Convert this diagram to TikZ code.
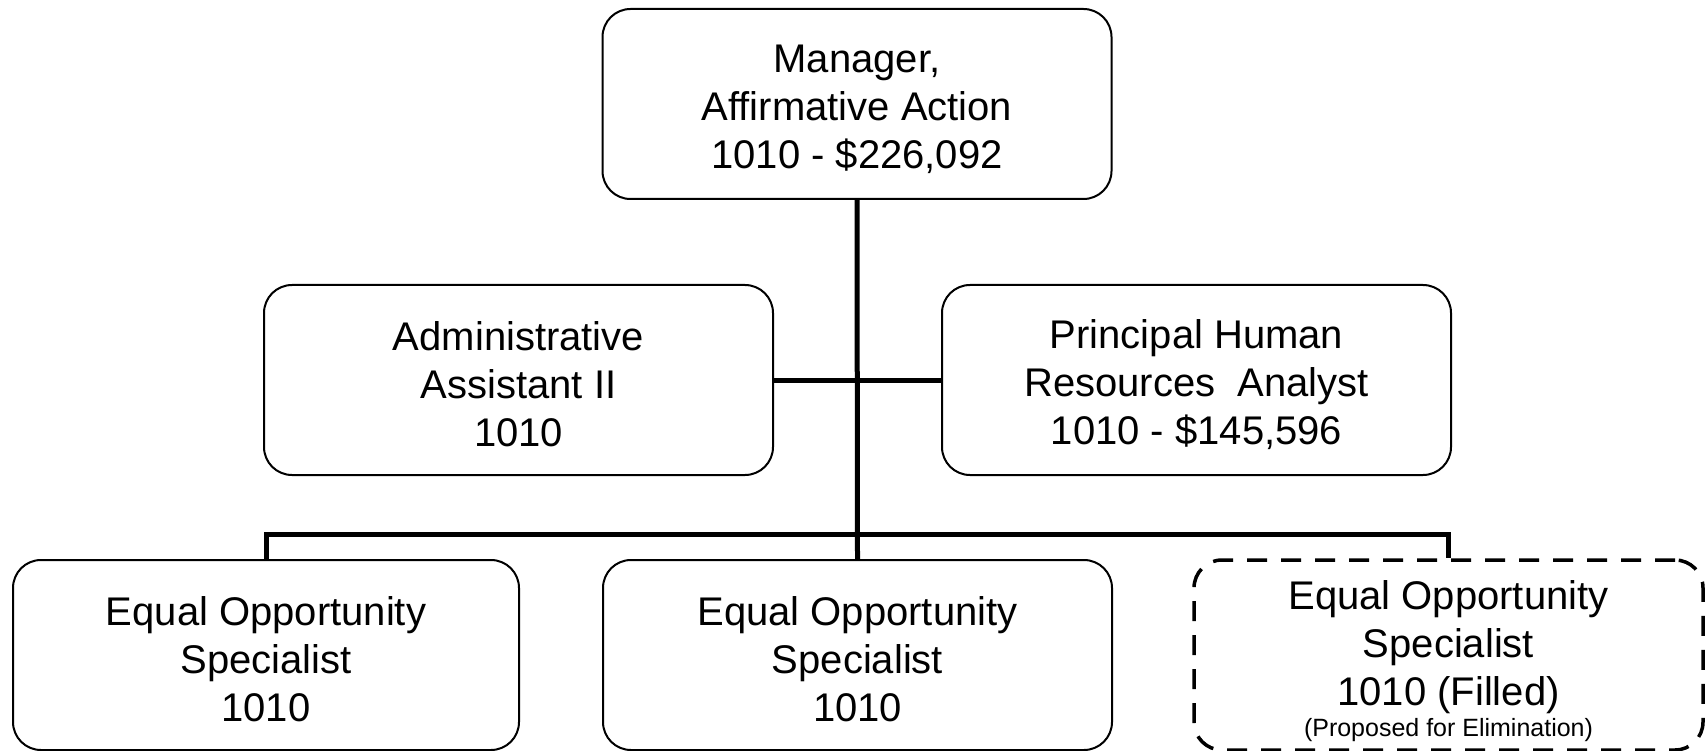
\documentclass[tikz,border=0pt]{standalone}
\usepackage{fontspec}
\setmainfont{Liberation Sans}
\newcommand\myTopStrut{\rule{0pt}{38pt}}
\begin{document}
\begin{tikzpicture}[x=1pt,y=-1pt,
  posbox/.style={draw, line width=2pt, rounded corners=28pt, minimum width=509pt, minimum height=190pt, align=center, inner sep=0pt, font=\fontsize{40}{48}\selectfont},
  dashbox/.style={draw, line width=3.5pt, dash pattern=on 20pt off 14pt, rounded corners=28pt, minimum width=509pt, minimum height=190pt, inner sep=0pt},
  txt/.style={align=center, inner sep=0pt, font=\fontsize{40}{48}\selectfont},
  smalltxt/.style={align=center, inner sep=0pt, font=\fontsize{25}{30}\selectfont},
  conn/.style={line width=5pt}]
\useasboundingbox (0,0) rectangle (1705,751);
\node[posbox] (mgr) at (857,104) {\myTopStrut Manager,\\Affirmative Action\\1010 - \$226,092};
\node[posbox] (adm) at (518.5,380) {\myTopStrut Administrative\\Assistant II\\1010};
\node[posbox] (pha) at (1196.5,380) {\myTopStrut Principal Human\\Resources\ \ Analyst\\1010 - \$145,596};
\node[posbox, minimum width=506pt] (eo1) at (266,655) {\myTopStrut Equal Opportunity\\Specialist\\1010};
\node[posbox] (eo2) at (857.5,655) {\myTopStrut Equal Opportunity\\Specialist\\1010};
\node[dashbox] (eo3) at (1448.5,655) {};
\node[txt] (eo3t) at (1448.5,647.5) {Equal Opportunity\\Specialist\\1010 (Filled)};
\node[smalltxt] (eo3n) at (1448.5,730) {(Proposed for Elimination)};
\draw[conn] (mgr.south) -- (eo2.north);
\draw[conn] (adm.east) -- (pha.west);
\draw[conn] (eo1.north) -- ++(0,-25) coordinate (busl) -| (eo3.north);
\end{tikzpicture}
\end{document}
